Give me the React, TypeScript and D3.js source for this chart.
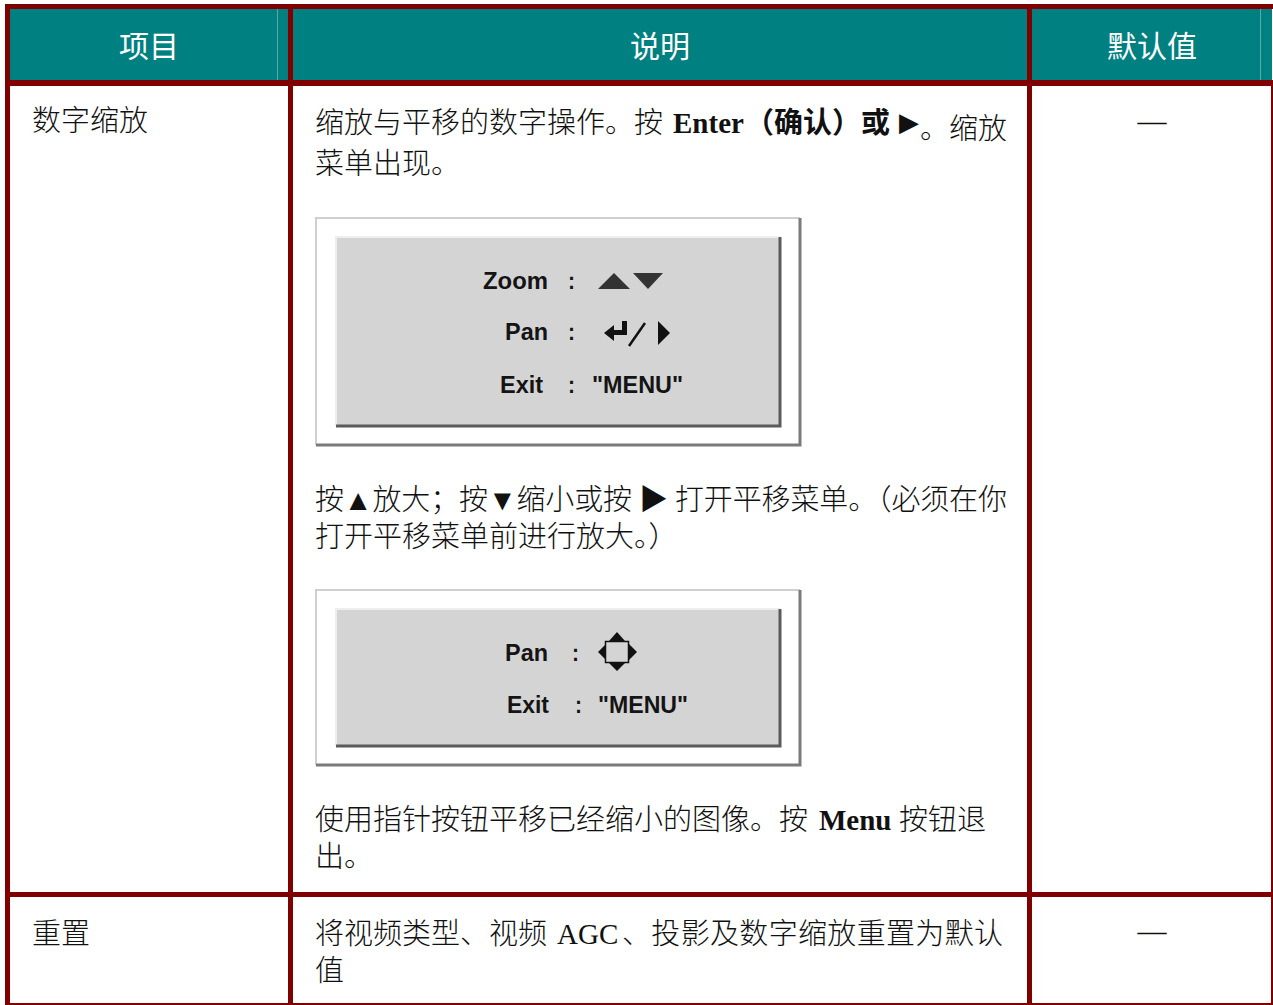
import React from 'react'
import * as d3 from 'd3'

// table content
const headers = ['项目', '说明', '默认值']
const items = ['数字缩放', '重置']
const defaults = ['—', '—']

const zoomIntro1 = ['缩放与平移的数字操作。按', 'Enter', '（确认）或', '▶', '。缩放']
const zoomIntro2 = '菜单出现。'
const zoomHint1 = '按▲放大；按▼缩小或按 ▶ 打开平移菜单。（必须在你'
const zoomHint2 = '打开平移菜单前进行放大。）'
const panHint1 = ['使用指针按钮平移已经缩小的图像。按', 'Menu', '按钮退']
const panHint2 = '出。'
const resetText1 = ['将视频类型、视频', 'AGC', '、投影及数字缩放重置为默认']
const resetText2 = '值'

const zoomMenuLabels = ['Zoom', 'Pan', 'Exit']
const panMenuLabels = ['Pan', 'Exit']
const menuValue = '"MENU"'

const MAROON = '#800000'
const TEAL = '#008080'
const BODY_FONT = '"Liberation Serif", "Noto Sans CJK SC", serif'
const CJK = '"Noto Sans CJK SC", sans-serif'
const OSD = '"Liberation Sans", Arial, sans-serif'

const W = 1273, H = 1005
const colEdges = [10, 288, 293, 1027, 1032, 1272]
const colCenter = (i: number) => (colEdges[i * 2] + colEdges[i * 2 + 1]) / 2

const line = d3.line()
const tri = (pts: [number, number][]) => line(pts) + 'Z'

function MenuBox({ x, y, w, h, children }: any) {
  const ix = x + 20, iy = y + 19, iw = w - 40, ih = h - 38
  return (
    <g>
      <rect x={x} y={y} width={w} height={h} fill="#fff" />
      <path d={`M${x},${y + h}V${y}H${x + w}`} stroke="#cfcfcf" strokeWidth={2} fill="none" />
      <path d={`M${x},${y + h}H${x + w}V${y}`} stroke="#7a7a7a" strokeWidth={3} fill="none" />
      <rect x={ix} y={iy} width={iw} height={ih} fill="#d4d4d4" />
      <path d={`M${ix},${iy + ih}V${iy}H${ix + iw}`} stroke="#eeeeee" strokeWidth={2} fill="none" />
      <path d={`M${ix},${iy + ih}H${ix + iw}V${iy}`} stroke="#5a5a5a" strokeWidth={3} fill="none" />
      {children}
    </g>
  )
}

const osdText = (t: string, x: number, y: number, w: number, anchor = 'start') => (
  <text x={x} y={y} fontFamily={OSD} fontWeight="bold" fontSize={24} fill="#141414"
    textAnchor={anchor} textLength={w} lengthAdjust="spacingAndGlyphs">{t}</text>
)

export default function App() {
  const bodyProps = { fontFamily: BODY_FONT, fontSize: 29, fill: '#111', fontWeight: 300 }

  return (
    <svg width={W} height={H} style={{ position: 'absolute', left: 0, top: 0, background: '#fff' }}>
      {/* header */}
      <rect x={10} y={9} width={1262} height={71} fill={TEAL} />
      <line x1={277.5} x2={277.5} y1={9} y2={80} stroke="#5fa8a8" />
      <line x1={1260.5} x2={1260.5} y1={9} y2={80} stroke="#5fa8a8" />
      {headers.map((hd, i) => (
        <text key={hd} x={colCenter(i)} y={57} textAnchor="middle" fontFamily={CJK} fontSize={30} fill="#fff">{hd}</text>
      ))}

      {/* borders */}
      <rect x={5} y={4} width={1268} height={5} fill={MAROON} />
      <rect x={5} y={80} width={1268} height={6} fill={MAROON} />
      <rect x={5} y={892} width={1268} height={5} fill={MAROON} />
      <rect x={5} y={1003} width={1268} height={2} fill={MAROON} />
      <rect x={5} y={4} width={5} height={1001} fill={MAROON} />
      <rect x={288} y={4} width={5} height={1001} fill={MAROON} />
      <rect x={1027} y={4} width={5} height={1001} fill={MAROON} />
      <rect x={1271} y={86} width={2} height={919} fill={MAROON} />

      {/* item column */}
      <text {...bodyProps} x={32} y={131}>{items[0]}</text>
      <text {...bodyProps} x={32} y={944}>{items[1]}</text>

      {/* default column */}
      <text {...bodyProps} x={colCenter(2)} y={131} textAnchor="middle">{defaults[0]}</text>
      <text {...bodyProps} x={colCenter(2)} y={941} textAnchor="middle">{defaults[1]}</text>

      {/* description: zoom */}
      <text {...bodyProps} y={133}>
        <tspan x={315}>{zoomIntro1[0]}</tspan>
        <tspan x={673} fontWeight="bold">{zoomIntro1[1]}</tspan>
        <tspan x={745} fontWeight="bold" fontFamily={CJK}>{zoomIntro1[2]}</tspan>
        <tspan x={899} fontFamily='"DejaVu Sans", sans-serif' fontSize={26} y={131}>{zoomIntro1[3]}</tspan>
        <tspan x={920} y={139}>{zoomIntro1[4]}</tspan>
      </text>
      <text {...bodyProps} x={315} y={174}>{zoomIntro2}</text>

      <MenuBox x={316} y={218} w={484} h={227}>
        {osdText(zoomMenuLabels[0], 548, 289, 65, 'end')}
        {osdText(zoomMenuLabels[1], 548, 340, 43, 'end')}
        {osdText(zoomMenuLabels[2], 543, 393, 43, 'end')}
        {osdText(':', 568, 289, 7)}
        {osdText(':', 568, 340, 7)}
        {osdText(':', 568, 393, 7)}
        <path d={tri([[598, 289], [614, 273], [630, 289]])} fill="#333" />
        <path d={tri([[633, 273], [663, 273], [648, 289]])} fill="#333" />
        <path d={tri([[604, 333], [614, 325], [614, 341]])} fill="#111" />
        <rect x={613} y={330} width={14} height={5} fill="#111" />
        <rect x={622} y={321} width={5} height={14} fill="#111" />
        <path d={line([[629, 346], [645, 323]]) as string} stroke="#111" strokeWidth={2.5} />
        <path d={tri([[658, 321], [670, 333], [658, 345]])} fill="#111" />
        {osdText(menuValue, 592, 393, 91)}
      </MenuBox>

      <text {...bodyProps} x={315} y={510} textLength={692} lengthAdjust="spacing">{zoomHint1}</text>
      <text {...bodyProps} x={315} y={547}>{zoomHint2}</text>

      <MenuBox x={316} y={590} w={484} h={175}>
        {osdText(panMenuLabels[0], 548, 661, 43, 'end')}
        {osdText(panMenuLabels[1], 549, 713, 42, 'end')}
        {osdText(':', 572, 661, 7)}
        {osdText(':', 575, 713, 7)}
        <rect x={605.5} y={641.5} width={23} height={21} fill="none" stroke="#111" strokeWidth={1.5} />
        <path d={tri([[617, 632], [625, 641], [609, 641]])} fill="#111" />
        <path d={tri([[617, 671], [625, 663], [609, 663]])} fill="#111" />
        <path d={tri([[598, 652], [606, 644], [606, 660]])} fill="#111" />
        <path d={tri([[637, 652], [629, 644], [629, 660]])} fill="#111" />
        {osdText(menuValue, 598, 713, 90)}
      </MenuBox>

      <text {...bodyProps} y={830}>
        <tspan x={315}>{panHint1[0]}</tspan>
        <tspan x={819} fontWeight="bold">{panHint1[1]}</tspan>
        <tspan x={899}>{panHint1[2]}</tspan>
      </text>
      <text {...bodyProps} x={315} y={867}>{panHint2}</text>

      {/* description: reset */}
      <text {...bodyProps} y={944}>
        <tspan x={315}>{resetText1[0]}</tspan>
        <tspan x={557}>{resetText1[1]}</tspan>
        <tspan x={622} textLength={381} lengthAdjust="spacing">{resetText1[2]}</tspan>
      </text>
      <text {...bodyProps} x={315} y={981}>{resetText2}</text>
    </svg>
  )
}
